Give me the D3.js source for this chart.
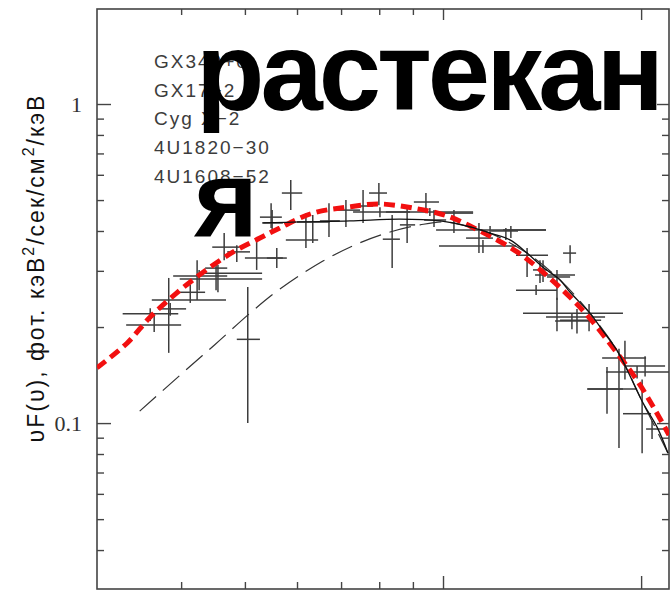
<!DOCTYPE html>
<html>
<head>
<meta charset="utf-8">
<script src="https://cdn.jsdelivr.net/npm/d3@7"></script>
<style>
  body { margin: 0; background: #fff; }
  svg { display: block; }
  .ylabel text { font-family: 'Liberation Serif', 'Times New Roman', serif !important; font-size: 22px !important; fill: #333 !important; }
</style>
</head>
<body>
<svg id="chart" width="672" height="592"></svg>
<script>
// Stacked boundary-layer spectra (keV) with error crosses and model curves.
const energy   = [3.59, 3.64, 3.83, 3.85, 4.13, 4.23, 4.26, 4.52, 4.55, 4.65, 4.86, 5.05, 5.21, 5.59, 5.48, 5.50, 5.87, 6.19, 6.34, 6.71,
                  7.12, 7.56, 7.99, 8.02, 8.37, 8.82, 9.42, 9.55, 9.69, 10.39, 11.79, 11.34, 11.50, 12.46, 12.68, 13.42, 14.04, 14.90, 13.85, 14.19,
                  15.60, 16.67, 14.90, 15.70, 15.98, 18.90, 20.28, 19.72, 17.75, 18.51, 20.07, 20.78];
const energyLo = [3.26, 3.30, 3.61, 3.69, 3.96, 3.89, 3.98, 4.35, 4.32, 4.46, 4.70, 4.86, 5.00, 5.40, 5.27, 5.31, 5.69, 5.77, 6.00, 6.50,
                  6.85, 7.30, 7.72, 7.30, 8.10, 8.60, 9.03, 8.19, 9.36, 10.00, 9.76, 10.84, 9.86, 11.83, 12.34, 12.91, 13.70, 14.39, 12.91, 13.80,
                  15.22, 13.23, 14.34, 14.80, 15.06, 17.45, 18.84, 17.69, 16.55, 16.61, 18.77, 20.35];
const energyHi = [3.96, 4.00, 4.68, 4.07, 4.35, 4.70, 5.31, 4.70, 5.31, 4.91, 5.09, 5.27, 5.71, 5.79, 5.69, 5.71, 6.11, 6.46, 6.73, 6.97,
                  7.48, 7.83, 8.22, 8.91, 8.60, 9.07, 9.86, 11.11, 10.11, 11.11, 14.34, 11.91, 12.91, 13.00, 14.34, 14.44, 14.39, 15.60, 14.90, 15.87,
                  15.93, 18.77, 17.63, 16.72, 17.39, 20.35, 21.75, 22.05, 18.77, 19.72, 20.71, 21.82];
const flux     = [0.220, 0.203, 0.243, 0.228, 0.257, 0.289, 0.283, 0.306, 0.295, 0.356, 0.344, 0.183, 0.329, 0.329, 0.442, 0.424, 0.526, 0.375, 0.427, 0.430,
                  0.465, 0.479, 0.526, 0.459, 0.377, 0.418, 0.493, 0.459, 0.433, 0.455, 0.403, 0.380, 0.359, 0.400, 0.403, 0.336, 0.302, 0.287, 0.261, 0.291,
                  0.341, 0.221, 0.215, 0.209, 0.210, 0.160, 0.151, 0.1445, 0.128, 0.128, 0.107, 0.0958];
const fluxLo   = [0.209, 0.193, 0.166, 0.217, 0.238, 0.243, 0.261, 0.261, 0.257, 0.324, 0.320, 0.100, 0.302, 0.306, 0.409, 0.403, 0.465, 0.354, 0.367, 0.383,
                  0.412, 0.424, 0.482, 0.442, 0.306, 0.367, 0.455, 0.446, 0.412, 0.394, 0.391, 0.341, 0.341, 0.375, 0.380, 0.287, 0.275, 0.243, 0.252, 0.277,
                  0.317, 0.194, 0.194, 0.197, 0.191, 0.137, 0.140, 0.138, 0.107, 0.0835, 0.0805, 0.0891];
const fluxHi   = [0.229, 0.218, 0.285, 0.238, 0.271, 0.324, 0.302, 0.317, 0.313, 0.394, 0.361, 0.267, 0.375, 0.354, 0.489, 0.465, 0.578, 0.455, 0.449, 0.489,
                  0.500, 0.538, 0.565, 0.475, 0.449, 0.475, 0.526, 0.472, 0.465, 0.465, 0.415, 0.424, 0.375, 0.409, 0.415, 0.354, 0.324, 0.302, 0.271, 0.324,
                  0.361, 0.236, 0.247, 0.221, 0.228, 0.181, 0.162, 0.151, 0.150, 0.171, 0.137, 0.1015];

// Spreading-layer model (red dashed)
const slEnergy = [2.98, 3.31, 3.59, 3.94, 4.32, 4.80, 5.27, 5.65, 6.34, 7.15, 8.02, 9.00, 10.14, 11.38, 12.96, 14.19, 15.60, 16.72, 18.58, 19.72, 21.00, 22.05];
const slFlux   = [0.149, 0.178, 0.215, 0.256, 0.297, 0.344, 0.380, 0.409, 0.455, 0.475, 0.486, 0.472, 0.446, 0.400, 0.344, 0.297, 0.248, 0.213, 0.161, 0.136, 0.110, 0.0917];

// Reference model curves (black)
const solidEnergy = [5.33, 6.06, 7.22, 8.60, 9.90, 10.99, 11.79, 12.64, 13.42, 14.19, 15.06, 15.60, 16.72, 17.45, 18.38, 19.04, 20.14, 21.15, 21.97];
const solidFlux   = [0.424, 0.427, 0.430, 0.436, 0.430, 0.412, 0.394, 0.375, 0.341, 0.308, 0.281, 0.257, 0.221, 0.196, 0.169, 0.147, 0.1155, 0.0971, 0.0805];
const dashEnergy  = [3.46, 3.98, 4.50, 5.09, 5.65, 6.57, 7.40, 8.31, 9.23, 10.07, 10.99, 11.79, 13.42, 15.06, 16.72, 18.38, 20.14, 21.97];
const dashFlux    = [0.109, 0.141, 0.176, 0.221, 0.263, 0.322, 0.364, 0.397, 0.418, 0.427, 0.412, 0.394, 0.341, 0.281, 0.221, 0.169, 0.1155, 0.0805];

const sources = ["GX340+0", "GX17+2", "Cyg X\u22122", "4U1820\u221230", "4U1608\u221252"];

const yMajorTicks = [0.1, 1];
const yMinorTicks = [0.04, 0.05, 0.06, 0.07, 0.08, 0.09, 0.2, 0.3, 0.4, 0.5, 0.6, 0.7, 0.8, 0.9];
const xMajorTicks = [10, 20];
const xMinorTicks = [4, 5, 6, 7, 8, 9];

const svg = d3.select("#chart");
const frame = { left: 97, right: 669, top: 9, bottom: 589 };

const x = d3.scaleLog().domain([2.98, 22.05]).range([frame.left, frame.right]);
const y = d3.scaleLog().domain([0.0302, 1.985]).range([frame.bottom, frame.top]);

const axisColor = "#444";

svg.append("defs").append("clipPath").attr("id", "plot")
  .append("rect")
  .attr("x", frame.left).attr("y", frame.top)
  .attr("width", frame.right - frame.left).attr("height", frame.bottom - frame.top);

// Axes with inward ticks on all four sides
function drawAxis(axisFn, pos, transform, ticks, size, fmt) {
  const a = axisFn(pos).tickValues(ticks).tickSize(size).tickSizeOuter(0).tickPadding(15);
  a.tickFormat(fmt || (() => ""));
  const g = svg.append("g").attr("transform", transform).call(a);
  g.select(".domain").remove();
  g.selectAll(".tick line").attr("stroke", axisColor).attr("stroke-width", 1.4);
  return g;
}
drawAxis(d3.axisLeft, y, `translate(${frame.left},0)`, yMinorTicks, -7);
drawAxis(d3.axisLeft, y, `translate(${frame.left},0)`, yMajorTicks, -14, d => d === 1 ? "1" : "0.1")
  .attr("class", "ylabel");
drawAxis(d3.axisRight, y, `translate(${frame.right},0)`, yMinorTicks, -7);
drawAxis(d3.axisRight, y, `translate(${frame.right},0)`, yMajorTicks, -12);
drawAxis(d3.axisBottom, x, `translate(0,${frame.bottom})`, xMinorTicks, -7);
drawAxis(d3.axisBottom, x, `translate(0,${frame.bottom})`, xMajorTicks, -13);
drawAxis(d3.axisTop, x, `translate(0,${frame.top})`, xMinorTicks, -6);
drawAxis(d3.axisTop, x, `translate(0,${frame.top})`, xMajorTicks, -11);

svg.append("rect")
  .attr("x", frame.left).attr("y", frame.top)
  .attr("width", frame.right - frame.left).attr("height", frame.bottom - frame.top)
  .attr("fill", "none").attr("stroke", axisColor).attr("stroke-width", 1.6);

// Source list
svg.append("g").selectAll("text").data(sources).join("text")
  .attr("x", 154)
  .attr("y", (d, i) => 68 + i * 28.7)
  .attr("font-family", "'Liberation Sans', Arial, sans-serif")
  .attr("font-size", 19)
  .attr("letter-spacing", 2)
  .attr("fill", "#3c3c3c")
  .text(d => d);

const plot = svg.append("g").attr("clip-path", "url(#plot)");

// Error crosses
const crosses = plot.append("g").attr("stroke", "#3d3d3d").attr("stroke-width", 1.5);
d3.range(energy.length).forEach(i => {
  crosses.append("line")
    .attr("x1", x(energyLo[i])).attr("x2", x(energyHi[i]))
    .attr("y1", y(flux[i])).attr("y2", y(flux[i]));
  crosses.append("line")
    .attr("x1", x(energy[i])).attr("x2", x(energy[i]))
    .attr("y1", y(fluxLo[i])).attr("y2", y(fluxHi[i]));
});

const line = d3.line().x(d => x(d[0])).y(d => y(d[1])).curve(d3.curveCatmullRom);

plot.append("path")
  .datum(d3.zip(slEnergy, slFlux))
  .attr("d", line)
  .attr("fill", "none").attr("stroke", "#f21010").attr("stroke-width", 5)
  .attr("stroke-dasharray", "11,6");

plot.append("path")
  .datum(d3.zip(dashEnergy, dashFlux))
  .attr("d", line)
  .attr("fill", "none").attr("stroke", "#333").attr("stroke-width", 1.2)
  .attr("stroke-dasharray", "22,9");

plot.append("path")
  .datum(d3.zip(solidEnergy, solidFlux))
  .attr("d", line)
  .attr("fill", "none").attr("stroke", "#111").attr("stroke-width", 1.3);

// Y axis title
const yTitle = svg.append("text")
  .attr("transform", "translate(44,268) rotate(-90)")
  .attr("text-anchor", "middle")
  .attr("font-family", "'Liberation Sans', Arial, sans-serif")
  .attr("font-size", 23)
  .attr("letter-spacing", 2)
  .attr("fill", "#111");
yTitle.append("tspan").text("\u03c5F(\u03c5), фот. кэВ");
yTitle.append("tspan").attr("dy", -10).attr("font-size", 16).text("2");
yTitle.append("tspan").attr("dy", 10).text("/сек/см");
yTitle.append("tspan").attr("dy", -10).attr("font-size", 16).text("2");
yTitle.append("tspan").attr("dy", 10).text("/кэВ");

// Overlay caption
svg.append("text")
  .attr("x", 196).attr("y", 110)
  .attr("font-family", "'Liberation Sans', Arial, sans-serif")
  .attr("font-weight", "bold")
  .attr("font-size", 112)
  .attr("letter-spacing", -4)
  .attr("fill", "#000")
  .text("растекан");
svg.append("text")
  .attr("x", 194).attr("y", 236)
  .attr("font-family", "'Liberation Sans', Arial, sans-serif")
  .attr("font-weight", "bold")
  .attr("font-size", 110)
  .attr("fill", "#000")
  .text("я");
</script>
</body>
</html>
